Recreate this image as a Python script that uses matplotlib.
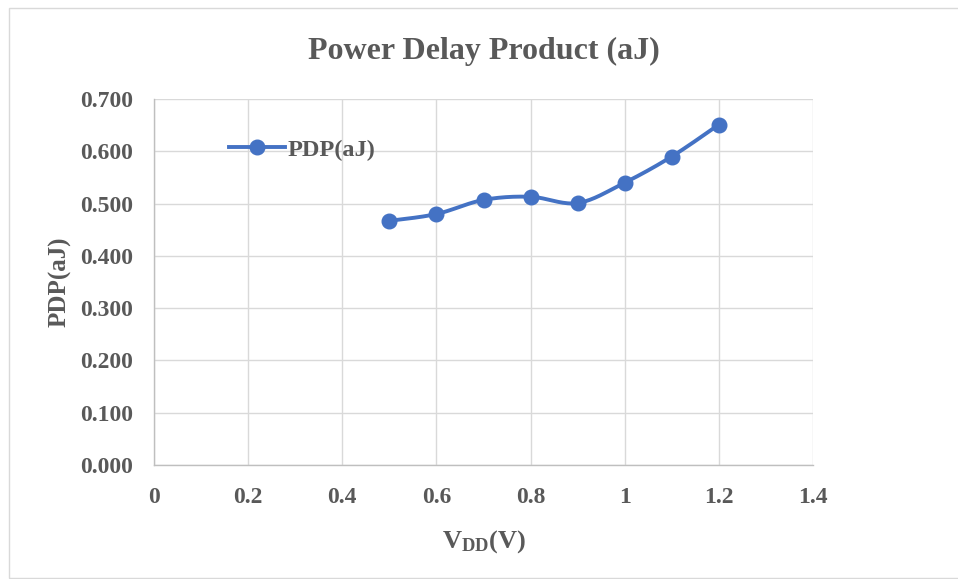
import numpy as np
import matplotlib
matplotlib.use("Agg")
import matplotlib.pyplot as plt
from matplotlib.patches import Rectangle

vdd = [0.5, 0.6, 0.7, 0.8, 0.9, 1.0, 1.1, 1.2]
pdp = [0.467, 0.480, 0.507, 0.513, 0.501, 0.540, 0.590, 0.651]
series_name = "PDP(aJ)"
title = "Power Delay Product (aJ)"
xticks = [0, 0.2, 0.4, 0.6, 0.8, 1, 1.2, 1.4]
xticklabels = ["0", "0.2", "0.4", "0.6", "0.8", "1", "1.2", "1.4"]
yticks = [0.0, 0.1, 0.2, 0.3, 0.4, 0.5, 0.6, 0.7]

plt.rcParams['font.family'] = ['Liberation Serif', 'DejaVu Serif']
plt.rcParams['mathtext.fontset'] = 'custom'
plt.rcParams['mathtext.rm'] = 'Liberation Serif:bold'
plt.rcParams['mathtext.bf'] = 'Liberation Serif:bold'
plt.rcParams['mathtext.it'] = 'Liberation Serif:bold'

TXT = '#595959'
GRID = '#d9d9d9'
BLUE = '#4472C4'

def smooth(xs, ys, n=20):
    # Catmull-Rom style curve through the data points (Excel "smoothed line")
    xs = np.asarray(xs, float); ys = np.asarray(ys, float)
    px = np.concatenate([[xs[0]], xs, [xs[-1]]])
    py = np.concatenate([[ys[0]], ys, [ys[-1]]])
    ox, oy = [], []
    for i in range(1, len(px) - 2):
        p0 = np.array([px[i-1], py[i-1]]); p1 = np.array([px[i], py[i]])
        p2 = np.array([px[i+1], py[i+1]]); p3 = np.array([px[i+2], py[i+2]])
        c1 = p1 + (p2 - p0) / 6.0
        c2 = p2 - (p3 - p1) / 6.0
        t = np.linspace(0, 1, n)[:, None]
        b = ((1-t)**3)*p1 + 3*((1-t)**2)*t*c1 + 3*(1-t)*t**2*c2 + t**3*p2
        ox.extend(b[:, 0]); oy.extend(b[:, 1])
    return ox, oy

fig = plt.figure(figsize=(9.58, 5.79), dpi=100)
fig.patches.append(Rectangle((9/958, 1 - 578/579), 1.2, 570/579, transform=fig.transFigure,
                             fill=False, edgecolor='#d9d9d9', linewidth=1.0))

ax = fig.add_axes([154/958, 1 - 465/579, (813-154)/958, (465-99)/579])
sx, sy = smooth(vdd, pdp)
ax.plot(sx, sy, color=BLUE, linewidth=2.8, solid_capstyle='round', zorder=3)
ax.plot(vdd, pdp, linestyle='none', marker='o', markersize=10.5, color=BLUE, zorder=4)
ax.plot([], [], color=BLUE, linewidth=2.8, marker='o', markersize=10.5, label=series_name)

ax.set_xlim(0, 1.4)
ax.set_ylim(0, 0.7)
ax.set_xticks(xticks)
ax.set_xticklabels(xticklabels)
ax.set_yticks(yticks)
ax.set_yticklabels([f"{v:.3f}" for v in yticks])
ax.grid(True, color=GRID, linewidth=1.0)
ax.set_axisbelow(True)
for s in ['top', 'right']:
    ax.spines[s].set_visible(False)
for s in ['left', 'bottom']:
    ax.spines[s].set_color('#bfbfbf')
    ax.spines[s].set_linewidth(1.0)
ax.tick_params(length=0, labelsize=17, labelcolor=TXT)
ax.tick_params(axis='y', pad=15)
ax.tick_params(axis='x', pad=16)
for lab in ax.get_xticklabels() + ax.get_yticklabels():
    lab.set_fontweight('bold')

ax.set_title(title, fontsize=23, fontweight='bold', color=TXT, pad=29)
ax.set_xlabel(r'$\mathrm{V}_{\mathrm{DD}}\mathrm{(V)}$', fontsize=19, color=TXT, labelpad=14)
ax.set_ylabel(series_name, fontsize=18, fontweight='bold', color=TXT, labelpad=6)

leg = ax.legend(loc='center left', bbox_to_anchor=(75/659, 1 - 51/366), frameon=False,
                prop={'family': 'Liberation Serif', 'weight': 'bold', 'size': 17.5},
                handlelength=2.3, handletextpad=0.1, borderaxespad=0, borderpad=0)
for t in leg.get_texts():
    t.set_color(TXT)

fig.savefig('out.png', dpi=100)
